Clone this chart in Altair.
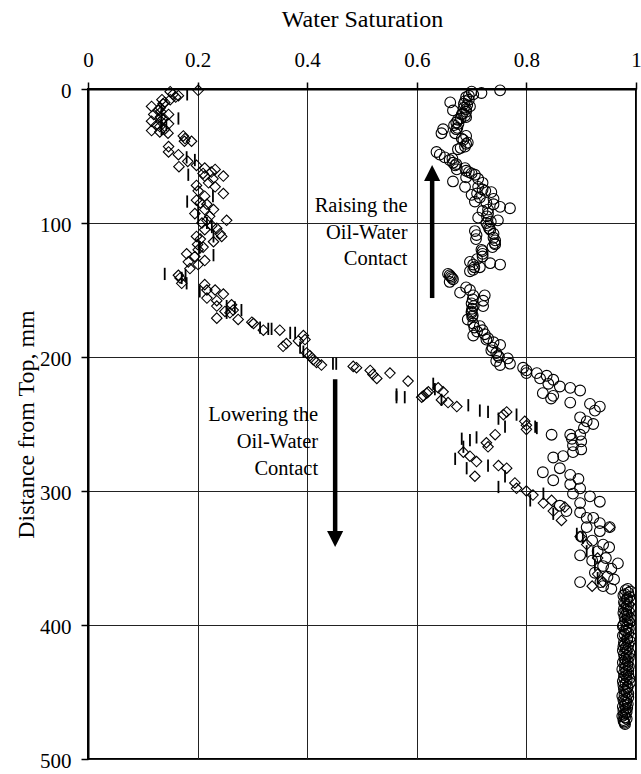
import altair as alt
import pandas as pd

# ---------------- data (saturation, depth mm) ----------------
circles = [
    (0.752, 1), (0.718, 3), (0.703, 4), (0.69, 6), (0.695, 8), (0.661, 10), (0.686, 11),
    (0.697, 13), (0.686, 14), (0.666, 16), (0.69, 17), (0.682, 19), (0.69, 21), (0.675, 23),
    (0.672, 25), (0.668, 27), (0.648, 30), (0.672, 30), (0.645, 33), (0.67, 33), (0.682, 37),
    (0.693, 40), (0.688, 43), (0.675, 45), (0.636, 47), (0.642, 49), (0.651, 51), (0.66, 53),
    (0.666, 55), (0.67, 57), (0.688, 59), (0.673, 60), (0.695, 62), (0.706, 64), (0.69, 66),
    (0.666, 69), (0.688, 73), (0.712, 73), (0.72, 75), (0.736, 77), (0.70, 79), (0.715, 81),
    (0.706, 84), (0.727, 85), (0.74, 86), (0.752, 88), (0.77, 89), (0.72, 91), (0.73, 93),
    (0.712, 96), (0.748, 98), (0.727, 100), (0.73, 102), (0.734, 105), (0.706, 106),
    (0.709, 109), (0.74, 108), (0.708, 112), (0.743, 113), (0.743, 116), (0.738, 118),
    (0.718, 120), (0.72, 123), (0.72, 125), (0.697, 129), (0.703, 131), (0.734, 130),
    (0.752, 131), (0.715, 133), (0.703, 135), (0.697, 136), (0.657, 138), (0.662, 140),
    (0.666, 142), (0.66, 144), (0.69, 148), (0.697, 150), (0.679, 152), (0.703, 154),
    (0.724, 154), (0.721, 158), (0.70, 160), (0.721, 162), (0.701, 164), (0.70, 167),
    (0.701, 170), (0.693, 172), (0.703, 175), (0.715, 177), (0.72, 180), (0.724, 183),
    (0.703, 184), (0.727, 187), (0.74, 189), (0.752, 191), (0.736, 195), (0.745, 197),
    (0.75, 200), (0.766, 201), (0.745, 203), (0.77, 205), (0.752, 206), (0.794, 208),
    (0.80, 210), (0.80, 212), (0.819, 212), (0.837, 214), (0.825, 216), (0.849, 217),
    (0.84, 220), (0.861, 222), (0.88, 223), (0.898, 225), (0.83, 227), (0.849, 229),
    (0.845, 231), (0.88, 234), (0.916, 235), (0.934, 237), (0.925, 240), (0.898, 245),
    (0.91, 248), (0.922, 250), (0.905, 253), (0.846, 258), (0.88, 258), (0.898, 258),
    (0.883, 261), (0.90, 263), (0.885, 266), (0.90, 269), (0.885, 271), (0.849, 275),
    (0.867, 274), (0.83, 286), (0.861, 283), (0.849, 292), (0.88, 288), (0.895, 291),
    (0.88, 295), (0.898, 298), (0.885, 302), (0.916, 304), (0.934, 308), (0.898, 309),
    (0.861, 311), (0.873, 315), (0.898, 316), (0.91, 320), (0.922, 320), (0.934, 324),
    (0.91, 327), (0.952, 327), (0.934, 330), (0.90, 334), (0.92, 337), (0.94, 340),
    (0.951, 342), (0.898, 348), (0.93, 345), (0.945, 350), (0.967, 354), (0.92, 352),
    (0.94, 356), (0.955, 358), (0.925, 361), (0.948, 364), (0.898, 368), (0.935, 368),
    (0.96, 366), (0.94, 371), (0.955, 373),
    (0.70, 2), (0.695, 5), (0.688, 9), (0.692, 12), (0.69, 15), (0.684, 18), (0.688, 20),
    (0.68, 22), (0.676, 26), (0.674, 29), (0.69, 35), (0.685, 38), (0.69, 41), (0.68, 44),
    (0.665, 52), (0.672, 56), (0.69, 61), (0.70, 63), (0.712, 67), (0.72, 70), (0.725, 76),
    (0.71, 78), (0.74, 82), (0.73, 90), (0.728, 95), (0.735, 99), (0.732, 104), (0.74, 111),
    (0.742, 115), (0.72, 121), (0.71, 127), (0.705, 133), (0.66, 139), (0.664, 141),
    (0.702, 157), (0.704, 162), (0.70, 166), (0.702, 169), (0.705, 178), (0.71, 181),
    (0.73, 186), (0.738, 193), (0.748, 199),
    (0.985, 373), (0.99, 375), (0.98, 377), (0.988, 379), (0.983, 381), (0.978, 383),
    (0.986, 385), (0.99, 387), (0.982, 389), (0.977, 391), (0.985, 393), (0.989, 395),
    (0.98, 397), (0.984, 399), (0.976, 401), (0.987, 403), (0.982, 405), (0.979, 407),
    (0.99, 409), (0.984, 411), (0.978, 413), (0.986, 415), (0.981, 417), (0.976, 419),
    (0.988, 421), (0.983, 423), (0.979, 425), (0.985, 427), (0.98, 429), (0.987, 431),
    (0.975, 433), (0.982, 435), (0.986, 437), (0.978, 439), (0.983, 441), (0.989, 443),
    (0.977, 445), (0.984, 447), (0.98, 449), (0.986, 451), (0.975, 453), (0.982, 455),
    (0.979, 457), (0.985, 459), (0.976, 461), (0.981, 463), (0.983, 465), (0.978, 467),
    (0.98, 469), (0.977, 471), (0.979, 473),
    (0.981, 374), (0.986, 376), (0.977, 378), (0.984, 380), (0.99, 382), (0.98, 384),
    (0.983, 386), (0.978, 388), (0.987, 390), (0.982, 392), (0.979, 394), (0.985, 396),
    (0.988, 398), (0.977, 400), (0.983, 402), (0.98, 404), (0.986, 406), (0.976, 408),
    (0.984, 410), (0.989, 412), (0.98, 414), (0.977, 416), (0.985, 418), (0.982, 420),
    (0.978, 422), (0.987, 424), (0.981, 426), (0.976, 428), (0.984, 430), (0.98, 432),
    (0.986, 434), (0.978, 436), (0.982, 438), (0.988, 440), (0.976, 442), (0.981, 444),
    (0.985, 446), (0.978, 448), (0.983, 450), (0.979, 452), (0.986, 454), (0.977, 456),
    (0.982, 458), (0.98, 460), (0.984, 462), (0.977, 464), (0.981, 466), (0.975, 468),
    (0.983, 470), (0.978, 472), (0.98, 474),
]

diamonds = [
    (0.201, 1), (0.15, 2), (0.165, 5), (0.15, 8), (0.135, 8), (0.137, 11), (0.116, 13),
    (0.132, 14), (0.133, 17), (0.147, 19), (0.132, 21), (0.116, 24), (0.133, 24), (0.147, 26),
    (0.131, 28), (0.116, 31), (0.131, 32), (0.146, 33), (0.174, 35), (0.177, 37), (0.176, 39),
    (0.189, 39), (0.147, 43), (0.147, 47), (0.165, 49), (0.182, 54), (0.198, 57), (0.166, 58),
    (0.213, 59), (0.232, 60), (0.225, 62), (0.213, 65), (0.228, 67), (0.247, 65), (0.198, 72),
    (0.201, 76), (0.232, 73), (0.247, 78), (0.213, 80), (0.198, 83), (0.217, 86), (0.229, 90),
    (0.213, 90), (0.195, 93), (0.253, 98), (0.217, 98), (0.226, 102), (0.213, 105),
    (0.241, 108), (0.244, 110), (0.198, 110), (0.229, 114), (0.20, 116), (0.201, 120),
    (0.18, 123), (0.213, 128), (0.183, 129), (0.201, 131), (0.186, 134), (0.165, 139),
    (0.168, 141), (0.171, 145), (0.213, 146), (0.217, 150), (0.232, 150), (0.247, 153),
    (0.217, 156), (0.235, 158), (0.262, 161), (0.235, 162), (0.265, 165), (0.25, 166),
    (0.259, 167), (0.235, 171), (0.274, 172), (0.299, 174), (0.302, 175), (0.32, 180),
    (0.35, 180), (0.384, 188), (0.393, 184), (0.396, 187), (0.356, 192), (0.362, 190),
    (0.399, 197), (0.405, 199), (0.411, 202), (0.417, 204), (0.426, 206), (0.484, 207),
    (0.49, 208), (0.515, 210), (0.52, 213), (0.527, 216), (0.551, 212), (0.584, 218),
    (0.609, 230), (0.618, 227), (0.612, 229), (0.621, 226), (0.639, 223), (0.648, 226),
    (0.645, 232), (0.657, 234), (0.673, 237), (0.764, 241), (0.758, 243), (0.797, 248),
    (0.80, 251), (0.80, 254), (0.743, 258), (0.727, 264), (0.73, 267), (0.685, 271),
    (0.697, 274), (0.709, 278), (0.706, 289), (0.749, 281), (0.764, 283), (0.779, 294),
    (0.782, 298), (0.80, 300), (0.812, 303), (0.831, 309), (0.846, 307), (0.849, 315),
    (0.87, 312), (0.864, 322), (0.898, 334), (0.952, 327), (0.91, 340), (0.93, 350),
    (0.93, 362), (0.94, 368), (0.92, 371),
    (0.14, 10), (0.128, 16), (0.12, 19), (0.138, 22), (0.125, 27), (0.14, 30), (0.155, 4),
    (0.16, 6), (0.21, 63), (0.22, 70), (0.205, 85), (0.222, 95), (0.208, 100), (0.235, 104),
    (0.205, 112), (0.21, 118), (0.195, 125),
]

dashes = [
    (0.181, 4), (0.165, 22), (0.134, 15), (0.134, 20), (0.134, 25), (0.143, 27), (0.134, 30),
    (0.18, 51), (0.195, 53), (0.183, 64), (0.181, 84), (0.228, 80), (0.201, 91), (0.201, 96),
    (0.217, 100), (0.226, 103), (0.229, 110), (0.204, 118), (0.229, 124), (0.14, 138),
    (0.178, 139), (0.171, 141), (0.18, 145), (0.204, 151), (0.253, 162), (0.253, 167),
    (0.268, 163), (0.28, 165), (0.314, 178), (0.329, 179), (0.335, 179), (0.369, 182),
    (0.378, 182), (0.387, 193), (0.393, 196), (0.447, 205), (0.453, 205), (0.563, 228),
    (0.563, 230), (0.578, 230), (0.63, 220), (0.633, 224), (0.645, 232), (0.694, 236),
    (0.715, 240), (0.73, 241), (0.749, 246), (0.761, 252), (0.782, 243), (0.816, 252),
    (0.819, 253), (0.682, 261), (0.685, 267), (0.697, 262), (0.709, 260), (0.67, 276),
    (0.691, 283), (0.73, 281), (0.749, 297), (0.761, 289), (0.807, 307), (0.831, 302),
    (0.849, 317), (0.892, 332), (0.903, 335), (0.922, 346), (0.91, 345), (0.925, 355),
    (0.93, 365),
]

x_ticks = [0, 0.2, 0.4, 0.6, 0.8, 1]
y_ticks = [0, 100, 200, 300, 400, 500]

note_text = ["Raising the", "Oil-Water", "Contact", "Lowering the", "Oil-Water", "Contact"]
note_sat = [0.583, 0.583, 0.583, 0.42, 0.42, 0.42]
note_depth = [91.8, 111.6, 131.3, 247.5, 268.1, 288.0]

arrow_sat = [0.628, 0.451]
arrow_start = [156, 216.6]
arrow_end = [68, 331]
head_depth = [62.7, 335.8]
head_shape = ["M0,-1L1,1L-1,1Z", "M0,1L1,-1L-1,-1Z"]

FONT = "Liberation Serif"

df_c = pd.DataFrame(circles, columns=["sat", "depth"])
df_d = pd.DataFrame(diamonds, columns=["sat", "depth"])
df_s = pd.DataFrame(dashes, columns=["sat", "depth"])
df_n = pd.DataFrame({"sat": note_sat, "depth": note_depth, "text": note_text})
df_a = pd.DataFrame({"sat": arrow_sat, "depth": arrow_start, "depth2": arrow_end})
df_h = pd.DataFrame({"sat": arrow_sat, "depth": head_depth, "shape": head_shape})

x_enc = alt.X(
    "sat:Q",
    scale=alt.Scale(domain=[0, 1], nice=False, zero=False),
    axis=alt.Axis(
        orient="top", values=x_ticks, format="~g", title="Water Saturation",
        titleX=274, titleY=-62.5, titleBaseline="alphabetic", titleAlign="center",
        labelPadding=12,
    ),
)
y_enc = alt.Y(
    "depth:Q",
    scale=alt.Scale(domain=[0, 500], nice=False, zero=False, reverse=True),
    axis=alt.Axis(
        orient="left", values=y_ticks, format="d", title="Distance from Top, mm",
        titleAngle=270, titleX=-55, titleY=335, titleBaseline="alphabetic", titleAlign="center",
        labelPadding=10, labelOffset=2,
    ),
)

circ = alt.Chart(df_c).mark_point(
    shape="circle", filled=False, color="black", size=115, strokeWidth=1.1, opacity=1
).encode(x=x_enc, y=y_enc)

diam = alt.Chart(df_d).mark_point(
    shape="diamond", filled=False, color="black", size=110, strokeWidth=1.1, opacity=1
).encode(x=x_enc, y=y_enc)

dash = alt.Chart(df_s).mark_point(
    shape="M0,-1L0,1", filled=False, color="black", size=150, strokeWidth=1.8, opacity=1
).encode(x=x_enc, y=y_enc)

notes = alt.Chart(df_n).mark_text(
    align="right", baseline="alphabetic", font=FONT, fontSize=20.5, color="black"
).encode(x=x_enc, y=y_enc, text="text:N")

shafts = alt.Chart(df_a).mark_rule(color="black", strokeWidth=4.5).encode(
    x=x_enc, y=y_enc, y2="depth2:Q"
)

heads = alt.Chart(df_h).mark_point(
    filled=True, color="black", size=260, opacity=1, strokeWidth=0
).encode(x=x_enc, y=y_enc, shape=alt.Shape("shape:N", scale=None, legend=None))

chart = (
    alt.layer(circ, diam, dash, shafts, heads, notes)
    .properties(
        width=548, height=670,
        padding={"left": 88, "top": 89, "right": 5, "bottom": 15},
        autosize=alt.AutoSizeParams(type="none"),
        background="white",
    )
    .configure(font=FONT)
    .configure_view(stroke="black", strokeWidth=2)
    .configure_axis(
        titleFont=FONT, titleFontSize=24, titleFontWeight="normal", titleColor="black",
        labelFont=FONT, labelFontSize=21, labelColor="black",
        labelFlush=False, labelOverlap=False,
        tickSize=7, tickColor="black", tickWidth=1.5,
        domainColor="black", domainWidth=2,
        grid=True, gridColor="#222", gridWidth=1,
    )
)

chart.save("out.html", embed_options={"renderer": "svg", "actions": False})
